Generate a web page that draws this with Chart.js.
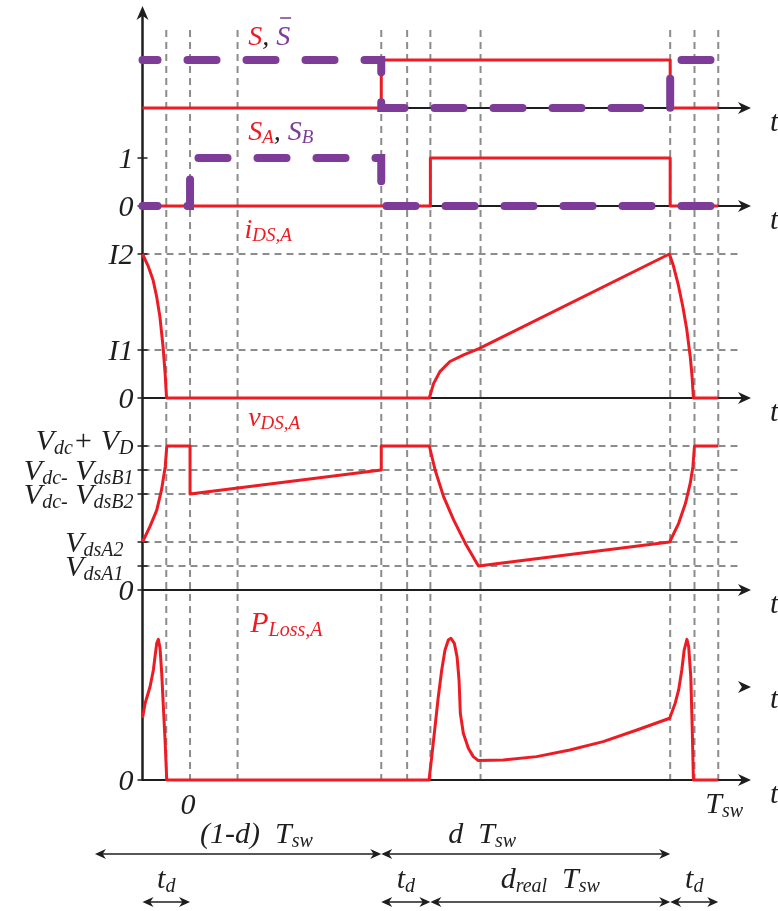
<!DOCTYPE html>
<html>
<head>
<meta charset="utf-8">
<script src="https://cdn.jsdelivr.net/npm/chart.js@4.4.1/dist/chart.umd.min.js"></script>
<style>
  body { margin: 0; background: #fff; }
  #wrap { width: 778px; height: 911px; }
</style>
</head>
<body>
<div id="wrap"><canvas id="chart-canvas"></canvas></div>
<script>
// time in % of Tsw, td is about 9
let edgeT = [-4.5, 0, 9, 36.2, 41.1, 45.5, 55, 90.9, 95.5, 100];

// S and S-bar
let sTime = [-9, 36.2, 36.2, 90.9, 90.9, 100];
let sVal = [0, 0, 1, 1, 0, 0];
let sBarVal = [1, 1, 0, 0, 1, 1];

// SA and SB
let saTime = [-9, 45.5, 45.5, 90.9, 90.9, 100];
let saVal = [0, 0, 1, 1, 0, 0];
let sbTime = [-9, 0, 0, 36.2, 36.2, 100];
let sbVal = [0, 0, 1, 1, 0, 0];

// iDS,A  (I1 = 1, I2 = 3)
let iTime = [-9, -7.9, -7.0, -6.3, -5.7, -5.1, -4.7, -4.45, 45.3, 46.1, 47.3, 49.2, 51.8, 54.7,
  90.75, 91.5, 92.45, 93.3, 94.05, 94.7, 95.05, 95.3, 100];
let iVal = [3.0, 2.74, 2.46, 2.1, 1.69, 1.06, 0.48, 0, 0, 0.3, 0.55, 0.76, 0.9, 1.03,
  3.0, 2.76, 2.35, 1.9, 1.42, 0.86, 0.44, 0, 0];

// vDS,A
let vTime = [-9, -7.6, -6.3, -5.4, -4.7, -4.4, 0, 0, 36.2, 36.2, 45.3, 46.4, 48.0, 49.9, 52.1, 54.6, 90.8, 92.5, 93.8, 94.7, 95.2, 95.5, 100];
let vVal = [2, 2.64, 3.33, 4.17, 5.14, 6, 6, 4, 5, 6, 6, 5, 3.89, 2.92, 1.95, 1, 2, 2.78, 3.61, 4.45, 5.14, 6, 6];

// PLoss,A
let pTime = [-9, -8.5, -7.57, -6.94, -6.63, -6.31, -6.0, -5.68, -5.36, -5.05, -4.73, -4.41,
  45.25, 45.76, 46.38, 47.0, 47.65, 48.27, 48.9, 49.4, 50.04, 50.55, 50.93, 51.17, 51.74, 52.69, 53.63, 54.58,
  59.3, 65.6, 71.9, 78.2, 84.6,
  90.8, 91.85, 92.5, 93.1, 93.55, 94.07, 94.4, 94.8, 95.05, 95.3, 100];
let pVal = [3.26, 4.04, 4.91, 5.79, 6.49, 7.19, 7.4, 6.93, 5.61, 3.86, 2.1, 0,
  0, 1.23, 2.8, 4.38, 5.79, 6.84, 7.37, 7.46, 7.19, 6.49, 5.26, 3.51, 2.46, 1.67, 1.23, 1.02,
  1.05, 1.23, 1.58, 2.02, 2.63,
  3.25, 4.04, 4.74, 5.79, 6.84, 7.4, 7.02, 5.44, 2.98, 0, 0];

// tick levels and labels
let gateTicks = [1, 0];
let gateTickLabels = ["1", "0"];
let iTicks = [3, 1, 0];
let iTickLabels = ["I2", "I1", "0"];
let vTicks = [6, 5, 4, 2, 1, 0];
let vTickLabels = ["V_{dc}+ V_{D}", "V_{dc-} V_{dsB1}", "V_{dc-} V_{dsB2}", "V_{dsA2}", "V_{dsA1}", "0"];
let pTicks = [0];
let pTickLabels = ["0"];

// time spans under the chart
let spanTop = [[-18, 36.2], [36.2, 90.9]];
let spanTopLabels = ["(1-d)  T_{sw}", "d  T_{sw}"];
let spanBottom = [[-9, 0], [36.2, 45.5], [45.5, 90.9], [90.9, 100]];
let spanBottomLabels = ["t_{d}", "t_{d}", "d_{real}  T_{sw}", "t_{d}"];

let red = "#ed1c24";
let purple = "#7d3c98";
let gray = "#8c8c8c";
let ink = "#1e1e1e";
let FONT = "'Liberation Serif', 'DejaVu Serif', serif";

function pts(xs, ys) {
  return xs.map(function (x, i) { return { x: x, y: ys[i] }; });
}

function line(ctx, x1, y1, x2, y2) {
  ctx.beginPath();
  ctx.moveTo(x1, y1);
  ctx.lineTo(x2, y2);
  ctx.stroke();
}

// dir: 1 right, -1 left, 'up'
function arrowHead(ctx, x, y, dir, len, half) {
  ctx.beginPath();
  if (dir === "up") {
    ctx.moveTo(x, y);
    ctx.lineTo(x - half, y + len);
    ctx.lineTo(x, y + len * 0.7);
    ctx.lineTo(x + half, y + len);
  } else {
    ctx.moveTo(x, y);
    ctx.lineTo(x - dir * len, y - half);
    ctx.lineTo(x - dir * len * 0.7, y);
    ctx.lineTo(x - dir * len, y + half);
  }
  ctx.closePath();
  ctx.fill();
}

function richParts(str) {
  let parts = [];
  let re = /_\{([^}]*)\}/g, last = 0, m;
  while ((m = re.exec(str))) {
    if (m.index > last) parts.push([str.slice(last, m.index), false]);
    parts.push([m[1], true]);
    last = re.lastIndex;
  }
  if (last < str.length) parts.push([str.slice(last), false]);
  return parts;
}

function drawRich(ctx, str, x, y, align, color, size) {
  size = size || 28;
  let big = "italic " + size + "px " + FONT;
  let small = "italic " + Math.round(size * 0.68) + "px " + FONT;
  let parts = richParts(str);
  let w = 0;
  parts.forEach(function (p) {
    ctx.font = p[1] ? small : big;
    p.push(ctx.measureText(p[0]).width);
    w += p[2];
  });
  let cx = align === "right" ? x - w : align === "center" ? x - w / 2 : x;
  ctx.fillStyle = color;
  ctx.textAlign = "left";
  ctx.textBaseline = "alphabetic";
  parts.forEach(function (p) {
    ctx.font = p[1] ? small : big;
    ctx.fillText(p[0], cx, y + (p[1] ? size * 0.12 : 0));
    cx += p[2];
  });
  return cx;
}

let timingPlugin = {
  id: "timing",
  beforeDatasetsDraw(chart) {
    let ctx = chart.ctx, a = chart.chartArea, X = chart.scales.x;
    let sc = chart.scales;
    ctx.save();
    // dashed time marks
    ctx.strokeStyle = gray;
    ctx.lineWidth = 2;
    ctx.setLineDash([7, 5]);
    edgeT.forEach(function (t) {
      let x = X.getPixelForValue(t);
      line(ctx, x, a.top + 20, x, a.bottom + 5);
    });
    // dashed levels
    [[sc.yI, iTicks], [sc.yV, vTicks]].forEach(function (pair) {
      pair[1].forEach(function (v) {
        if (v === 0) return;
        let y = pair[0].getPixelForValue(v);
        line(ctx, a.left, y, a.right - 11, y);
      });
    });
    ctx.setLineDash([]);
    // time axes
    ctx.strokeStyle = ink;
    ctx.fillStyle = ink;
    ctx.lineWidth = 2;
    [sc.yS, sc.yG, sc.yI, sc.yV, sc.yP].forEach(function (s) {
      let y = s.getPixelForValue(0);
      line(ctx, a.left, y, a.right - 6, y);
      arrowHead(ctx, a.right, y, 1, 13, 6);
    });
    // stray arrow head in the loss panel
    arrowHead(ctx, a.right, sc.yP.getPixelForValue(4.9), 1, 13, 6);
    // vertical axis
    ctx.lineWidth = 2.5;
    line(ctx, a.left, a.bottom + 1, a.left, a.top);
    arrowHead(ctx, a.left, a.top - 4, "up", 14, 6);
    // small ticks
    ctx.lineWidth = 1.5;
    [[sc.yG, gateTicks], [sc.yI, iTicks], [sc.yV, vTicks], [sc.yP, pTicks]].forEach(function (pair) {
      pair[1].forEach(function (v) {
        let y = pair[0].getPixelForValue(v);
        line(ctx, a.left - 5, y, a.left + 5, y);
      });
    });
    ctx.restore();
  },
  afterDatasetsDraw(chart) {
    let ctx = chart.ctx, a = chart.chartArea, X = chart.scales.x;
    let sc = chart.scales;
    ctx.save();
    // tick labels
    [[sc.yG, gateTicks, gateTickLabels], [sc.yI, iTicks, iTickLabels],
     [sc.yV, vTicks, vTickLabels], [sc.yP, pTicks, pTickLabels]].forEach(function (g) {
      g[1].forEach(function (v, i) {
        let y = g[0].getPixelForValue(v) + 10;
        let txt = g[2][i];
        let x = a.left - 9;
        if (txt === "V_{dc}+ V_{D}") y -= 6;
        if (txt.indexOf("dsA") >= 0) x -= 10;
        drawRich(ctx, txt, x, y, "right", ink, 30);
      });
    });
    // "t" at each time axis
    [sc.yS, sc.yG, sc.yI, sc.yV, sc.yP].forEach(function (s) {
      drawRich(ctx, "t", a.right + 19, s.getPixelForValue(0) + 23, "left", ink, 30);
    });
    drawRich(ctx, "t", a.right + 19, sc.yP.getPixelForValue(4.9) + 21, "left", ink, 30);

    // panel titles
    let tx = X.getPixelForValue(11);
    let y1 = sc.yS.getPixelForValue(1) - 15;
    let cx = drawRich(ctx, "S", tx, y1, "left", red);
    cx = drawRich(ctx, ", ", cx, y1, "left", ink);
    let cx2 = drawRich(ctx, "S", cx, y1, "left", purple);
    ctx.strokeStyle = purple;
    ctx.lineWidth = 1.5;
    line(ctx, cx + 4, y1 - 27, cx2 + 1, y1 - 27);

    let y2 = sc.yG.getPixelForValue(1) - 18;
    cx = drawRich(ctx, "S_{A}", tx, y2, "left", red);
    cx = drawRich(ctx, ", ", cx, y2, "left", ink);
    drawRich(ctx, "S_{B}", cx, y2, "left", purple);

    drawRich(ctx, "i_{DS,A}", X.getPixelForValue(10.3), sc.yI.getPixelForValue(4) + 32, "left", red);
    drawRich(ctx, "v_{DS,A}", X.getPixelForValue(11), sc.yV.getPixelForValue(8) + 28, "left", red);
    drawRich(ctx, "P_{Loss,A}", X.getPixelForValue(11.4), sc.yP.getPixelForValue(10) + 42, "left", red, 30);

    // time marks under the loss axis
    let yb = a.bottom;
    drawRich(ctx, "0", X.getPixelForValue(0) - 2, yb + 34, "center", ink, 30);
    drawRich(ctx, "T_{sw}", X.getPixelForValue(100) + 6, yb + 33, "center", ink, 30);

    // span arrows
    ctx.strokeStyle = ink;
    ctx.fillStyle = ink;
    ctx.lineWidth = 1.5;
    function span(t1, t2, y) {
      let x1 = X.getPixelForValue(t1), x2 = X.getPixelForValue(t2);
      line(ctx, x1 + 4, y, x2 - 4, y);
      arrowHead(ctx, x1, y, -1, 11, 5);
      arrowHead(ctx, x2, y, 1, 11, 5);
    }
    let ySpan1 = yb + 74, ySpan2 = yb + 122;
    spanTop.forEach(function (s) { span(s[0], s[1], ySpan1); });
    spanBottom.forEach(function (s) { span(s[0], s[1], ySpan2); });
    drawRich(ctx, spanTopLabels[0], X.getPixelForValue(1.9), ySpan1 - 11, "left", ink, 30);
    drawRich(ctx, spanTopLabels[1], X.getPixelForValue(48.9), ySpan1 - 11, "left", ink, 30);
    spanBottom.forEach(function (s, i) {
      let mid = X.getPixelForValue((s[0] + s[1]) / 2);
      drawRich(ctx, spanBottomLabels[i], mid, ySpan2 - 14, "center", ink, 30);
    });
    ctx.restore();
  }
};

function wave(data, axis, color, dashed) {
  return {
    data: data,
    yAxisID: axis,
    borderColor: color,
    borderWidth: dashed ? 8 : 3,
    borderDash: dashed ? [29, 30] : [],
    borderDashOffset: dashed ? 14 : 0,
    borderCapStyle: dashed ? "round" : "butt",
    borderJoinStyle: dashed ? "miter" : "round",
    pointRadius: 0,
    tension: 0,
    fill: false,
    clip: false,
    order: dashed ? 0 : 1
  };
}

function panel(weight, max) {
  return { type: "linear", position: "left", stack: "panels", stackWeight: weight, min: 0, max: max, display: false };
}

let chart1 = new Chart(document.getElementById("chart-canvas"), {
  type: "line",
  data: {
    datasets: [
      wave(pts(sTime, sVal), "yS", red, false),
      wave(pts(sTime, sBarVal), "yS", purple, true),
      wave(pts(saTime, saVal), "yG", red, false),
      wave(pts(sbTime, sbVal), "yG", purple, true),
      wave(pts(iTime, iVal), "yI", red, false),
      wave(pts(vTime, vVal), "yV", red, false),
      wave(pts(pTime, pVal), "yP", red, false)
    ]
  },
  options: {
    responsive: true,
    maintainAspectRatio: false,
    animation: false,
    layout: { padding: { left: 142.5, right: 27, top: 10, bottom: 131 } },
    plugins: { legend: { display: false }, tooltip: { enabled: false } },
    scales: {
      x: { type: "linear", min: -9, max: 106.2, display: false },
      // listed bottom to top
      yP: panel(190, 10),
      yV: panel(192, 8),
      yI: panel(192, 4),
      yG: panel(98, 98 / 48),
      yS: panel(98, 98 / 48)
    }
  },
  plugins: [timingPlugin]
});
</script>
</body>
</html>
